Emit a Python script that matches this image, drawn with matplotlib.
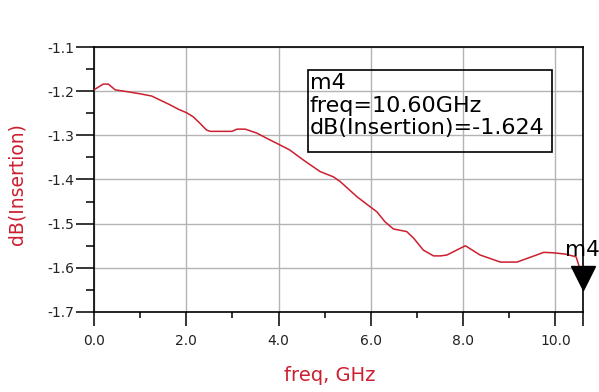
"""
Insertion loss vs frequency, ADS style plot.
"""
import matplotlib
matplotlib.use("Agg")
import matplotlib.pyplot as plt
from matplotlib.patches import Rectangle
from matplotlib.ticker import MultipleLocator

# data (GHz, dB)
freq = [0.0, 0.2, 0.31, 0.46, 0.71, 1.0, 1.25, 1.43, 1.65, 1.83, 2.01, 2.15,
        2.3, 2.44, 2.52, 2.99, 3.1, 3.28, 3.53, 3.75, 3.96, 4.11, 4.24, 4.54,
        4.9, 5.19, 5.34, 5.7, 5.99, 6.13, 6.31, 6.49, 6.78, 6.93, 7.14, 7.36,
        7.51, 7.65, 8.05, 8.37, 8.81, 9.17, 9.46, 9.75, 9.96, 10.22, 10.45, 10.6]
db_ins = [-1.197, -1.184, -1.184, -1.197, -1.201, -1.206, -1.211, -1.22,
          -1.231, -1.241, -1.249, -1.258, -1.273, -1.288, -1.291, -1.291,
          -1.286, -1.286, -1.295, -1.307, -1.318, -1.326, -1.333, -1.356,
          -1.382, -1.394, -1.405, -1.439, -1.462, -1.473, -1.496, -1.512,
          -1.518, -1.533, -1.56, -1.573, -1.573, -1.571, -1.55, -1.571,
          -1.587, -1.587, -1.576, -1.565, -1.566, -1.569, -1.575, -1.624]

xticks = [0, 2, 4, 6, 8, 10, 10.6]
xticklabels = ["0.0", "2.0", "4.0", "6.0", "8.0", "10.0", ""]
yticks = [-1.7, -1.6, -1.5, -1.4, -1.3, -1.2, -1.1]

marker_name = "m4"
marker_freq = 10.60
marker_val = -1.624

red = "#cc1f2f"

fig = plt.figure(figsize=(5.99, 3.92), dpi=100)
ax = fig.add_axes([0.1569, 0.2041, 0.8164, 0.676])

ax.plot(freq, db_ins, color=red, lw=1.1, zorder=3)
ax.plot([marker_freq], [marker_val], marker="v", ms=17, color="black",
        ls="none", zorder=5, clip_on=False)

ax.set_xlim(0, 10.6)
ax.set_ylim(-1.7, -1.1)
ax.set_xticks(xticks)
ax.set_xticklabels(xticklabels)
ax.set_yticks(yticks)
ax.set_yticklabels(["%.1f" % v for v in yticks])
ax.xaxis.set_minor_locator(MultipleLocator(1))
ax.yaxis.set_minor_locator(MultipleLocator(0.05))

ax.grid(True, which="major", color="#b4b4b4", lw=1.0)
ax.set_axisbelow(True)
for s in ax.spines.values():
    s.set_color("black")
    s.set_linewidth(1.2)

ax.tick_params(axis="y", which="major", direction="out", length=13,
               width=1.1, pad=1, labelsize=10, labelcolor="#222222")
ax.tick_params(axis="y", which="minor", direction="out", length=6, width=1.1)
ax.tick_params(axis="x", which="major", direction="out", length=10,
               width=1.1, pad=6, labelsize=10, labelcolor="#222222")
ax.tick_params(axis="x", which="minor", direction="out", length=4.3, width=1.1)

ax.set_xlabel("freq, GHz", color=red, fontsize=14, family="DejaVu Sans")
ax.xaxis.set_label_coords(0.483, -0.204)
ax.set_ylabel("dB(Insertion)", color=red, fontsize=13.5, family="DejaVu Sans")
ax.yaxis.set_label_coords(-0.139, 0.483)

# marker readout box
ax.add_patch(Rectangle((4.64, -1.338), 5.29, 0.186, fill=False,
                       edgecolor="black", lw=1.2, zorder=4))
ax.text(4.68, -1.160,
        "%s\nfreq=%.2fGHz\ndB(Insertion)=%.3f" % (marker_name, marker_freq, marker_val),
        ha="left", va="top", fontsize=16, linespacing=1.15, zorder=4)
ax.text(10.2, -1.573, marker_name, ha="left", va="baseline", fontsize=15.5,
        clip_on=False, zorder=6)

fig.savefig("out.png", dpi=100)
